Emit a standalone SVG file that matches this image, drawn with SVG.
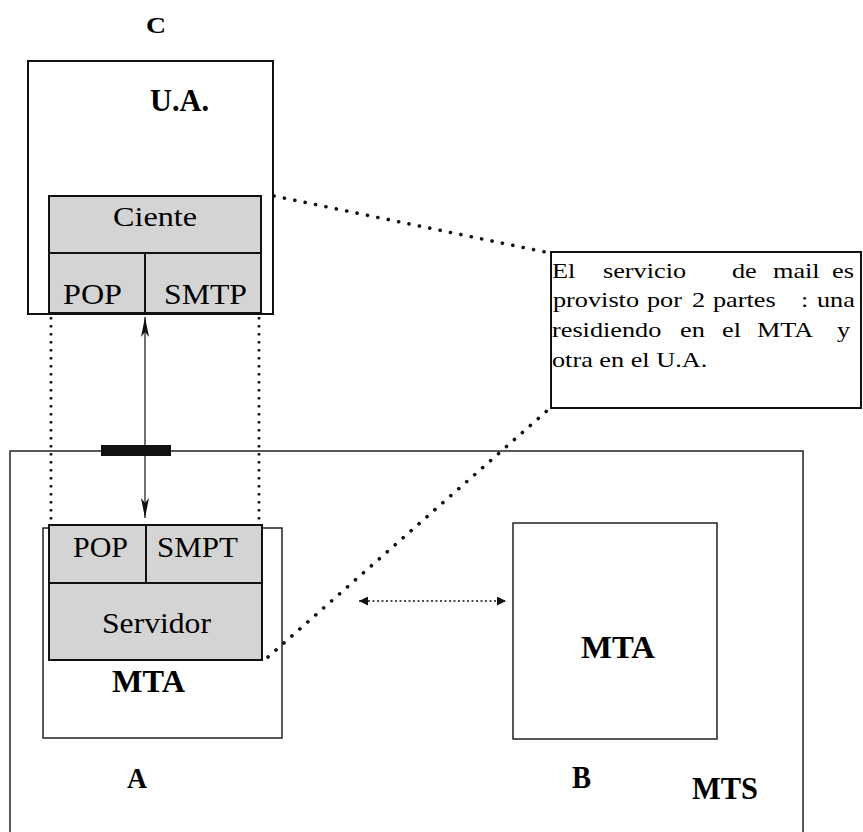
<svg xmlns="http://www.w3.org/2000/svg" width="863" height="832" viewBox="0 0 863 832">
<defs>
<style>
.t{font-family:"Liberation Serif","Times New Roman",serif;fill:#000}
.b{font-weight:bold}
.box{fill:#fff;stroke:#111;stroke-width:2}
.thin{fill:none;stroke:#222;stroke-width:1.5}
.gray{fill:#d4d4d4;stroke:#111;stroke-width:2}
.div{stroke:#111;stroke-width:2;fill:none}
.vdot{stroke:#111;stroke-width:2.5;stroke-dasharray:2.5 5.5;fill:none}
.ddot{stroke:#111;stroke-width:3.6;stroke-linecap:round;stroke-dasharray:0.1 10.5;fill:none}
.hdot{stroke:#111;stroke-width:1.6;stroke-dasharray:2 2.5;fill:none}
.solid{stroke:#111;stroke-width:1.2;fill:none}
</style>
<marker id="ah" viewBox="0 0 20 10" refX="20" refY="5" markerWidth="20" markerHeight="10" markerUnits="userSpaceOnUse" orient="auto-start-reverse">
<path d="M0,1 L20,5 L0,9 L5,5 Z" fill="#111"/>
</marker>
<marker id="sh" viewBox="0 0 10 10" refX="10" refY="5" markerWidth="9" markerHeight="9" markerUnits="userSpaceOnUse" orient="auto-start-reverse">
<path d="M0,0 L10,5 L0,10 Z" fill="#111"/>
</marker>
</defs>
<rect width="863" height="832" fill="#fff"/>

<g id="mts">
<rect class="thin" x="10" y="451" width="793" height="420"/>
<text class="t b" x="692" y="799" font-size="32" textLength="66" lengthAdjust="spacingAndGlyphs">MTS</text>
</g>

<g id="port">
<rect x="101" y="445" width="70" height="11" fill="#111"/>
</g>

<g id="ua">
<text class="t b" x="146" y="33" font-size="23" textLength="20" lengthAdjust="spacingAndGlyphs">C</text>
<rect class="box" x="28" y="61" width="245" height="253"/>
<text class="t b" x="150" y="111" font-size="32" textLength="59" lengthAdjust="spacingAndGlyphs">U.A.</text>
<rect class="gray" x="49" y="196" width="212" height="117"/>
<line class="div" x1="49" y1="253" x2="261" y2="253"/>
<line class="div" x1="145" y1="253" x2="145" y2="313"/>
<text class="t" x="113" y="226" font-size="28" textLength="84" lengthAdjust="spacingAndGlyphs">Ciente</text>
<text class="t" x="63" y="304" font-size="30" textLength="59" lengthAdjust="spacingAndGlyphs">POP</text>
<text class="t" x="164" y="304" font-size="30" textLength="83" lengthAdjust="spacingAndGlyphs">SMTP</text>
</g>

<g id="mtaA">
<rect class="thin" x="43" y="528" width="239" height="210" fill="#fff"/>
<rect class="gray" x="49" y="525" width="213" height="135"/>
<line class="div" x1="49" y1="583" x2="262" y2="583"/>
<line class="div" x1="146" y1="525" x2="146" y2="583"/>
<text class="t" x="73" y="557" font-size="30" textLength="55" lengthAdjust="spacingAndGlyphs">POP</text>
<text class="t" x="157" y="557" font-size="30" textLength="81" lengthAdjust="spacingAndGlyphs">SMPT</text>
<text class="t" x="102" y="633" font-size="30" textLength="109" lengthAdjust="spacingAndGlyphs">Servidor</text>
<text class="t b" x="112" y="692" font-size="32" textLength="73" lengthAdjust="spacingAndGlyphs">MTA</text>
<text class="t b" x="127" y="788" font-size="29" textLength="20" lengthAdjust="spacingAndGlyphs">A</text>
</g>

<g id="mtaB">
<rect class="thin" x="513" y="523" width="204" height="216" fill="#fff"/>
<text class="t b" x="581" y="658" font-size="32" textLength="74" lengthAdjust="spacingAndGlyphs">MTA</text>
<text class="t b" x="572" y="788" font-size="32" textLength="19" lengthAdjust="spacingAndGlyphs">B</text>
</g>

<g id="note">
<rect class="box" x="551" y="252" width="310" height="156"/>
<g transform="translate(552 0) scale(1.25 1)">
<text class="t" font-size="21" y="278"><tspan x="0">El</tspan><tspan x="40.8">servicio</tspan><tspan x="144">de</tspan><tspan x="176.8">mail</tspan><tspan x="224">es</tspan></text>
<text class="t" font-size="21" y="307"><tspan x="0.8">provisto</tspan><tspan x="76">por</tspan><tspan x="112">2</tspan><tspan x="128.8">partes</tspan><tspan x="199.2">:</tspan><tspan x="212">una</tspan></text>
<text class="t" font-size="21" y="337"><tspan x="0">residiendo</tspan><tspan x="102.4">en</tspan><tspan x="136">el</tspan><tspan x="164">MTA</tspan><tspan x="228">y</tspan></text>
<text class="t" font-size="21" y="367" x="0">otra en el U.A.</text>
</g>
</g>

<g id="connectors">
<line class="vdot" x1="51" y1="317" x2="51" y2="524"/>
<line class="vdot" x1="259" y1="317" x2="259" y2="524"/>
<line class="solid" x1="145" y1="317" x2="145" y2="518" marker-start="url(#ah)" marker-end="url(#ah)"/>
<line class="hdot" x1="359" y1="601" x2="506" y2="601" marker-start="url(#sh)" marker-end="url(#sh)"/>
<line class="ddot" x1="274" y1="196" x2="545" y2="252"/>
<line class="ddot" x1="268" y1="657" x2="549" y2="409"/>
</g>
</svg>
